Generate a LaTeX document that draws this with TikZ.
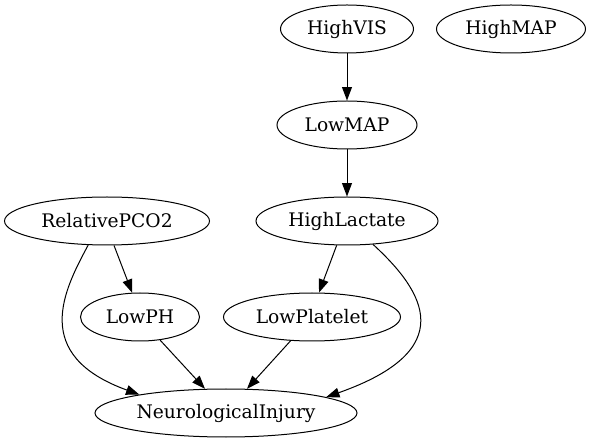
\documentclass[tikz,border=0pt]{standalone}
\usepackage{fontspec}
\setmainfont{DejaVu Serif}
\usetikzlibrary{arrows.meta,shapes.geometric}
\begin{document}
\begin{tikzpicture}[x=1pt,y=-1pt,
  nd/.style={draw,ellipse,line width=1pt,minimum height=48pt,inner sep=0pt,font=\fontsize{18.67}{20}\selectfont},
  ed/.style={-{Triangle[length=13.3pt,width=9.8pt]},line width=1pt}]
\useasboundingbox (0,0) rectangle (589,443);
\node[nd,minimum width=133pt] (hv) at (347,29) {HighVIS};
\node[nd,minimum width=149pt] (hm) at (511,29) {HighMAP};
\node[nd,minimum width=140pt] (lm) at (347,125) {LowMAP};
\node[nd,minimum width=182pt] (hl) at (347,221) {HighLactate};
\node[nd,minimum width=205pt] (rp) at (107,221) {RelativePCO2};
\node[nd,minimum width=119pt] (ph) at (140,317) {LowPH};
\node[nd,minimum width=177pt] (lp) at (312,317) {LowPlatelet};
\node[nd,minimum width=262pt] (ni) at (226,413) {NeurologicalInjury};
\draw[ed] (hv) -- (lm);
\draw[ed] (lm) -- (hl);
\draw[ed] (rp.-74) -- (ph.108);
\draw[ed] (hl.-113) -- (lp.74);
\draw[ed] (ph.-49) -- (ni.131);
\draw[ed] (lp.-132) -- (ni.49);
\draw[ed] (rp.-128) .. controls (64,290) and (30,355) .. (ni.168);
\draw[ed] (hl.-42) .. controls (425,292) and (460,350) .. (ni.9);
\end{tikzpicture}
\end{document}
